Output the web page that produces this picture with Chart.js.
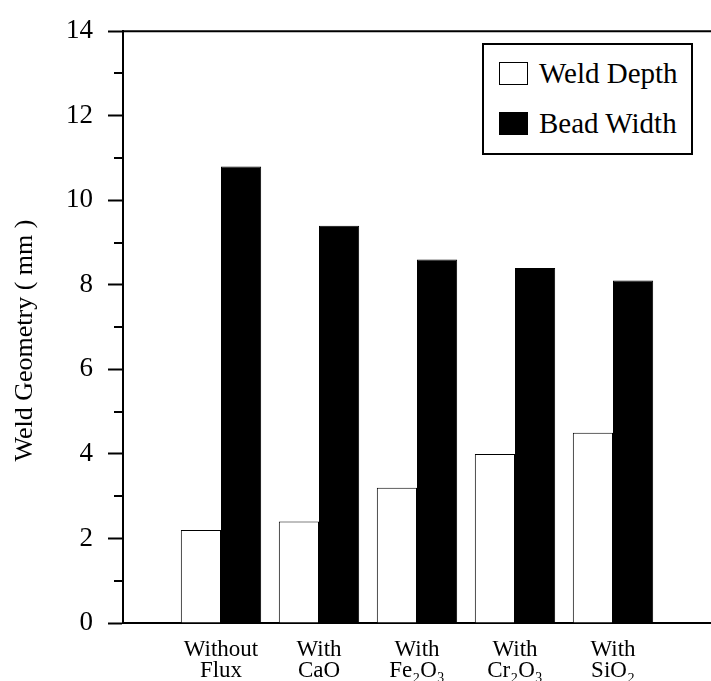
<!DOCTYPE html>
<html>
<head>
<meta charset="utf-8">
<script src="https://cdn.jsdelivr.net/npm/chart.js@4.4.0/dist/chart.umd.min.js"></script>
<style>
  html, body { margin: 0; padding: 0; background: #fff; }
  #wrap { position: relative; width: 711px; height: 681px; }
  #legend {
    position: absolute; left: 482px; top: 43px; width: 207px; height: 108px;
    border: 2px solid #000; background: #fff;
    font-family: 'Liberation Serif', serif; font-size: 29px; color: #000;
  }
  #legend .row { position: absolute; left: 15px; height: 23px; line-height: 22px; white-space: nowrap; }
  #legend .swatch { display: inline-block; width: 27px; height: 21px; border: 1px solid #000; vertical-align: top; margin-right: 11px; }
</style>
</head>
<body>
<div id="wrap">
  <canvas id="weldChart" width="711" height="681"></canvas>
  <div id="legend"></div>
</div>
<script>
// chart data
const categories = [['Without', 'Flux'], ['With', 'CaO'], ['With', 'Fe₂O₃'], ['With', 'Cr₂O₃'], ['With', 'SiO₂']];
const weldDepth = [2.2, 2.4, 3.2, 4.0, 4.5];
const beadWidth = [10.8, 9.4, 8.6, 8.4, 8.1];
const yTicks = [0, 2, 4, 6, 8, 10, 12, 14];
const yMinorTicks = [1, 3, 5, 7, 9, 11, 13];
const yTitle = 'Weld Geometry ( mm )';

const serif = 'Liberation Serif';

// empty slot at each end so the bars sit like the original (axis starts at an empty slot)
const labels = [''].concat(categories, ['']);
const pad = arr => [null].concat(arr, [null]);

// top frame line, minor ticks and the y title (centred on the page, not the plot)
const frameExtras = {
  id: 'frameExtras',
  afterDraw(chart) {
    const { ctx, chartArea, scales: { y } } = chart;
    ctx.save();
    ctx.strokeStyle = '#000';
    ctx.lineWidth = 2;
    ctx.beginPath();
    ctx.moveTo(chartArea.left - 1, chartArea.top);
    ctx.lineTo(chartArea.right, chartArea.top);
    yMinorTicks.forEach(function (v) {
      const py = Math.round(y.getPixelForValue(v));
      ctx.moveTo(chartArea.left, py);
      ctx.lineTo(chartArea.left - 9, py);
    });
    ctx.stroke();

    ctx.translate(25, chart.height / 2);
    ctx.rotate(-Math.PI / 2);
    ctx.fillStyle = '#000';
    ctx.font = '26px "' + serif + '"';
    ctx.textAlign = 'center';
    ctx.textBaseline = 'middle';
    ctx.fillText(yTitle, 0, 0);
    ctx.restore();
  }
};

const chart = new Chart(document.getElementById('weldChart').getContext('2d'), {
  type: 'bar',
  data: {
    labels: labels,
    datasets: [{
      label: 'Weld Depth',
      data: pad(weldDepth),
      backgroundColor: '#ffffff',
      borderColor: '#000000',
      borderWidth: 1
    }, {
      label: 'Bead Width',
      data: pad(beadWidth),
      backgroundColor: '#000000',
      borderColor: '#000000',
      borderWidth: 1
    }]
  },
  options: {
    responsive: false,
    animation: false,
    categoryPercentage: 0.82,
    barPercentage: 1.0,
    layout: { padding: { top: 22, right: 0, left: 0, bottom: 0 } },
    plugins: {
      legend: { display: false },
      tooltip: { enabled: false }
    },
    scales: {
      x: {
        offset: false,
        afterFit: function (s) {
          s.height = 58;
          s.paddingLeft = 0;
          s.paddingRight = 0;
        },
        grid: { display: false, drawTicks: false },
        border: { color: '#000', width: 2 },
        ticks: {
          color: '#000',
          font: { family: serif, size: 23, lineHeight: '21px' },
          padding: 16,
          maxRotation: 0,
          autoSkip: false
        }
      },
      y: {
        min: 0,
        max: 14,
        afterFit: function (s) { s.width = 123; },
        afterBuildTicks: function (s) { s.ticks = yTicks.map(v => ({ value: v })); },
        ticks: {
          color: '#000',
          font: { family: serif, size: 27 },
          padding: 15
        },
        grid: { drawOnChartArea: false, tickLength: 15, tickWidth: 2, tickColor: '#000' },
        border: { color: '#000', width: 2 },
        title: { display: false }
      }
    }
  },
  plugins: [frameExtras]
});

// legend box built from the datasets
const legendEl = document.getElementById('legend');
chart.data.datasets.forEach(function (ds, i) {
  const row = document.createElement('div');
  row.className = 'row';
  row.style.top = (17 + 50 * i) + 'px';
  const sw = document.createElement('span');
  sw.className = 'swatch';
  sw.style.background = ds.backgroundColor;
  row.appendChild(sw);
  row.appendChild(document.createTextNode(ds.label));
  legendEl.appendChild(row);
});
</script>
</body>
</html>
